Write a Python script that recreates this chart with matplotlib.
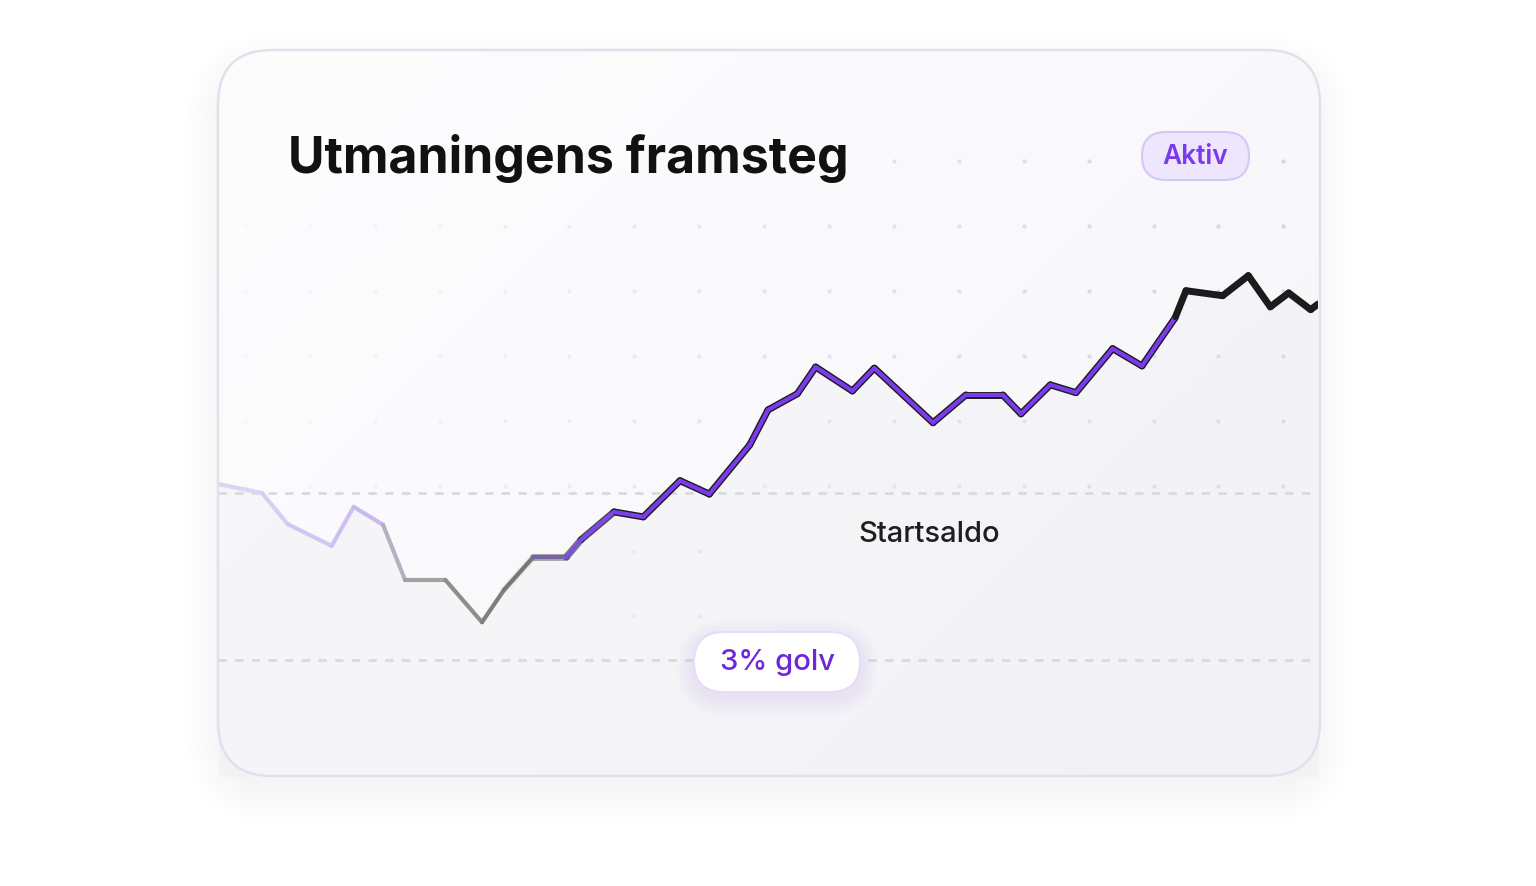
import numpy as np
import matplotlib.pyplot as plt
from matplotlib.patches import FancyBboxPatch
from matplotlib.collections import LineCollection
from matplotlib.colors import LinearSegmentedColormap, to_rgba

plt.rcParams['font.family'] = ['Inter', 'DejaVu Sans']

# data: day of challenge and account balance (% of start)
days = [0, 1.2, 1.9, 3.1, 3.7, 4.5, 5.1, 6.2, 7.2, 7.8, 8.6, 9.5, 9.9, 10.8, 11.6,
        12.6, 13.4, 14.5, 15.0, 15.8, 16.3, 17.3, 17.9, 19.5, 20.4, 21.4, 21.9, 22.7,
        23.4, 24.4, 25.2, 26.1, 26.4, 27.4, 28.1, 28.7, 29.2, 29.8, 30.0]
balance = [100.16, 100.0, 99.44, 99.05, 99.75, 99.43, 98.44, 98.44, 97.68, 98.26,
           98.85, 98.85, 99.16, 99.66, 99.57, 100.22, 99.98, 100.86, 101.49, 101.78,
           102.26, 101.83, 102.24, 101.26, 101.76, 101.76, 101.42, 101.94, 101.80,
           102.59, 102.28, 103.14, 103.63, 103.54, 103.90, 103.34, 103.59, 103.29, 103.39]
start_level = 100.0
floor_level = 97.0
title = "Utmaningens framsteg"
badge = "Aktiv"
floor_label = "3% golv"
start_label = "Startsaldo"

W, H = 1536, 886
fig = plt.figure(figsize=(W / 100, H / 100), dpi=100)
bg = fig.add_axes([0, 0, 1, 1])
bg.set_xlim(0, W)
bg.set_ylim(H, 0)
bg.axis('off')
bg.set_zorder(0)

# card shadow
for i in range(10):
    g = 3 + i * 4
    bg.add_patch(FancyBboxPatch((218 - g + 6, 50 - g + 22), 1102 + 2 * g - 12, 726 + 2 * g - 12,
                                boxstyle="round,pad=0,rounding_size=%d" % (55 + g),
                                fc='#8a84a8', ec='none', alpha=0.004, zorder=0))
card = FancyBboxPatch((218, 50), 1102, 726, boxstyle="round,pad=0,rounding_size=55",
                      fc='white', ec='none', zorder=1)
bg.add_patch(card)
grad = np.linspace(0, 1, 256)[None, :] * 0.6 + np.linspace(0, 1, 256)[:, None] * 0.4
cmap_bg = LinearSegmentedColormap.from_list('bg', ['#fdfdfe', '#f6f5f9'])
im = bg.imshow(grad, extent=(218, 1320, 776, 50), cmap=cmap_bg, zorder=1, aspect='auto')
im.set_clip_path(card)

# dot grid
xs = np.arange(245, 1300, 64.9)
for ry in [161, 226, 291, 356, 421, 486, 551, 616]:
    for x in xs:
        a = 0.1 + 0.9 * (x - 245) / 1040
        if ry == 161 and x < 880:
            continue
        if ry >= 551 and not (600 < x < 720):
            continue
        bg.scatter(x, ry, s=9, color='#d6d6dc', alpha=a, lw=0, zorder=2)

# chart axes
ax = fig.add_axes([218 / W, 1 - 776 / H, 1100 / W, 726 / H])
ax.set_zorder(1)
ax.set_xlim(0, 30)
ax.set_ylim(94.92, 107.95)
ax.axis('off')
ax.patch.set_alpha(0)

x = np.array(days)
y = np.array(balance)
fill = ax.fill_between(x, y, 94.92, color='#ecebf1', alpha=0.3, lw=0, zorder=1)

ax.axhline(start_level, color='#dadade', lw=2, ls=(0, (3, 3)), zorder=2)
ax.axhline(floor_level, color='#dadade', lw=2, ls=(0, (3, 3)), zorder=2)

pts = np.column_stack([x, y]).reshape(-1, 1, 2)
segs = np.concatenate([pts[:-1], pts[1:]], axis=1)
mid = (x[:-1] + x[1:]) / 2

stops = [(0, '#e0d8f5'), (4.0, '#cdbbf2'), (5.2, '#ababab'), (7.5, '#7f7f7f'),
         (8.6, '#727272'), (9.8, '#7c4de8'), (12, '#7c3aed'), (25.7, '#7c3aed'),
         (26.2, '#1c1c1c'), (30, '#1c1c1c')]
sx = [s[0] for s in stops]
srgb = np.array([to_rgba(s[1]) for s in stops])
cols = np.column_stack([np.interp(mid, sx, srgb[:, k]) for k in range(4)])

oa = np.clip((mid - 8.0) / 3.0, 0, 1)
ocols = np.array([(0.1, 0.1, 0.12, a) for a in oa])
outline = LineCollection(segs, colors=ocols, linewidths=5, capstyle='round',
                         joinstyle='round', zorder=3)
ax.add_collection(outline)
line = LineCollection(segs, colors=cols, linewidths=3, capstyle='round',
                      joinstyle='round', zorder=4)
ax.add_collection(line)

# overlay for labels
top = fig.add_axes([0, 0, 1, 1])
top.set_zorder(2)
top.set_xlim(0, W)
top.set_ylim(H, 0)
top.axis('off')
top.patch.set_alpha(0)

top.text(288, 158, title, fontsize=36, fontweight='bold', color='#111111',
         va='center', ha='left')
top.add_patch(FancyBboxPatch((1142, 132), 107, 48, boxstyle="round,pad=0,rounding_size=24",
                             fc='#ede6fc', ec='#d6c8f6', lw=1.5))
top.text(1195.5, 157, badge, fontsize=19, fontweight='semibold', color='#7c3aed',
         ha='center', va='center')
top.text(929, 535, start_label, fontsize=21, fontweight='medium', color='#1e1e1e',
         ha='center', va='center')
for i in range(6):
    g = 2 + i * 3
    top.add_patch(FancyBboxPatch((694 - g, 632 - g + 6), 166 + 2 * g, 60 + 2 * g,
                                 boxstyle="round,pad=0,rounding_size=%d" % (30 + g),
                                 fc='#7c3aed', ec='none', alpha=0.01))
top.add_patch(FancyBboxPatch((694, 632), 166, 60, boxstyle="round,pad=0,rounding_size=30",
                             fc='white', ec='#e6dcfb', lw=1.5))
top.text(777, 662, floor_label, fontsize=21, fontweight='medium', color='#6d28d9',
         ha='center', va='center')

# card border on top
top.add_patch(FancyBboxPatch((218, 50), 1102, 726, boxstyle="round,pad=0,rounding_size=55",
                             fc='none', ec='#e3e0ee', lw=1.8))

fig.savefig('out.png', dpi=100)
